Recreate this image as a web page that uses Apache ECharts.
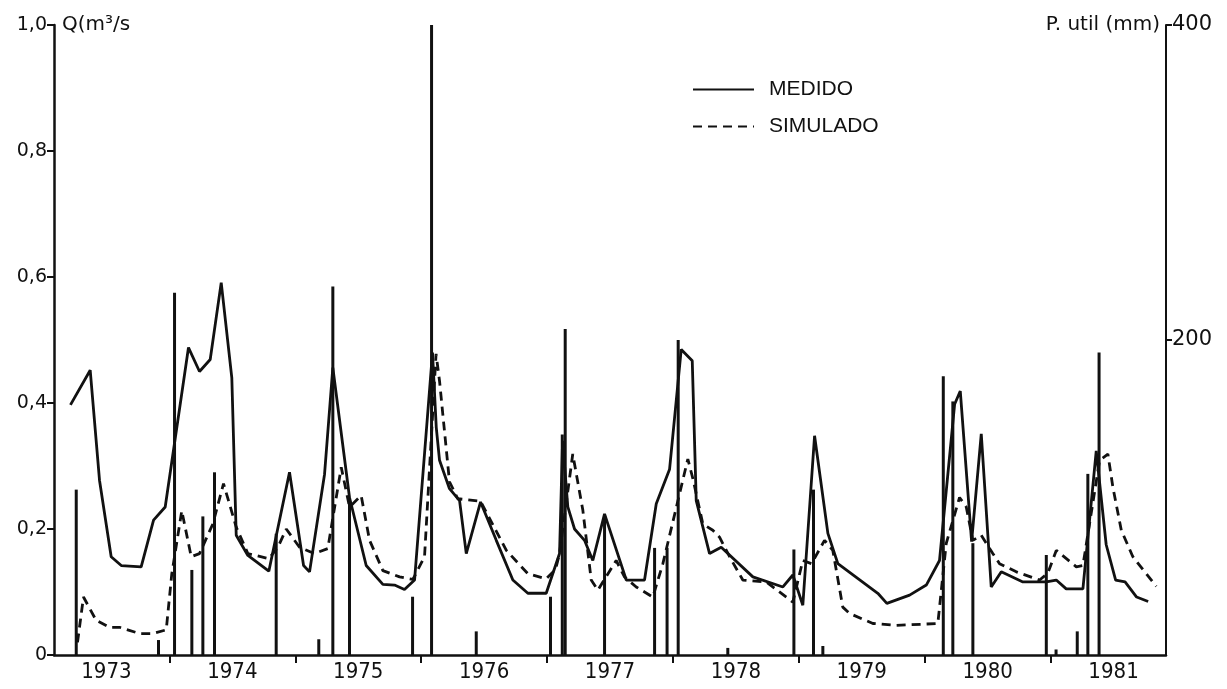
<!DOCTYPE html>
<html>
<head>
<meta charset="utf-8">
<script src="https://cdn.jsdelivr.net/npm/echarts@6.0.0/dist/echarts.min.js"></script>
<style>
  html, body { margin: 0; padding: 0; background: #ffffff; }
  #chart { width: 1227px; height: 689px; }
</style>
</head>
<body>
<div id="chart"></div>
<script>
// Time is counted in months from 1 January 1973.
const years = [1973, 1974, 1975, 1976, 1977, 1978, 1979, 1980, 1981];

// Discharge measured (MEDIDO), m3/s
const medidoMonth = [2.57, 4.45, 5.34, 6.45, 7.41, 9.31, 10.49, 11.60, 13.82, 14.87, 15.89, 16.94, 17.95, 18.37, 19.48, 21.48, 23.45, 24.79, 25.36, 26.79, 27.58, 29.17, 30.76, 32.35, 33.46, 34.41, 35.37, 37.08, 37.44, 37.75, 38.70, 39.66, 40.30, 41.66, 43.16, 44.74, 46.17, 47.92, 49.19, 49.48, 49.98, 50.62, 51.57, 52.36, 53.48, 55.55, 57.29, 58.41, 59.68, 60.79, 61.84, 62.22, 63.49, 64.60, 67.62, 70.48, 71.43, 72.38, 73.50, 74.77, 75.72, 79.53, 80.39, 82.56, 84.15, 85.41, 86.85, 87.39, 88.47, 89.39, 90.34, 91.30, 93.36, 95.59, 96.54, 97.49, 99.08, 100.35, 101.30, 102.2, 103.1, 104.2, 105.3];
const medidoQ = [0.397, 0.452, 0.277, 0.156, 0.142, 0.140, 0.214, 0.235, 0.488, 0.450, 0.469, 0.591, 0.440, 0.190, 0.158, 0.133, 0.290, 0.142, 0.132, 0.287, 0.456, 0.250, 0.142, 0.112, 0.111, 0.104, 0.119, 0.480, 0.361, 0.309, 0.264, 0.245, 0.161, 0.243, 0.182, 0.119, 0.098, 0.098, 0.161, 0.340, 0.235, 0.200, 0.182, 0.150, 0.224, 0.119, 0.119, 0.240, 0.295, 0.485, 0.467, 0.245, 0.161, 0.171, 0.124, 0.108, 0.127, 0.079, 0.348, 0.193, 0.145, 0.098, 0.082, 0.095, 0.111, 0.150, 0.398, 0.419, 0.180, 0.351, 0.108, 0.132, 0.116, 0.116, 0.119, 0.105, 0.105, 0.324, 0.175, 0.119, 0.116, 0.092, 0.085];

// Discharge simulated (SIMULADO), m3/s
const simuladoMonth = [3.24, 3.81, 5.02, 6.29, 7.25, 9.15, 10.42, 11.70, 12.23, 13.18, 14.08, 14.87, 16.14, 17.16, 18.37, 19.48, 21.48, 22.34, 23.14, 24.40, 25.83, 27.10, 28.38, 29.17, 30.28, 31.08, 32.35, 33.94, 35.21, 36.32, 37.42, 37.75, 38.70, 39.49, 41.66, 44.12, 46.17, 47.92, 48.81, 49.19, 50.45, 51.41, 52.21, 52.84, 54.59, 55.38, 56.50, 58.08, 59.04, 61.42, 61.90, 62.85, 63.80, 64.44, 65.40, 66.66, 68.89, 71.43, 72.38, 73.21, 74.45, 75.24, 76.19, 76.84, 79.06, 81.29, 85.25, 86.05, 87.32, 87.96, 88.59, 89.39, 90.49, 91.13, 92.73, 94.95, 95.74, 96.54, 98.45, 99.08, 100.67, 101.46, 101.94, 102.74, 103.84, 106.07];
const simuladoQ = [0.020, 0.092, 0.055, 0.044, 0.044, 0.034, 0.034, 0.040, 0.129, 0.229, 0.156, 0.161, 0.208, 0.272, 0.203, 0.161, 0.153, 0.171, 0.200, 0.171, 0.161, 0.169, 0.298, 0.235, 0.253, 0.182, 0.134, 0.124, 0.120, 0.156, 0.478, 0.435, 0.275, 0.248, 0.244, 0.166, 0.129, 0.121, 0.136, 0.161, 0.319, 0.230, 0.119, 0.103, 0.150, 0.124, 0.108, 0.092, 0.145, 0.311, 0.280, 0.208, 0.198, 0.187, 0.156, 0.119, 0.116, 0.084, 0.150, 0.145, 0.182, 0.166, 0.076, 0.066, 0.050, 0.047, 0.050, 0.177, 0.250, 0.235, 0.182, 0.190, 0.161, 0.145, 0.132, 0.119, 0.130, 0.166, 0.140, 0.142, 0.309, 0.319, 0.266, 0.198, 0.156, 0.109];

// Effective rainfall (P util), mm
const chuvaMonth = [3.12, 10.96, 12.49, 14.14, 15.19, 16.30, 22.18, 26.24, 27.58, 29.17, 35.18, 36.99, 41.25, 48.33, 49.45, 49.73, 53.48, 58.25, 59.44, 60.50, 65.23, 71.53, 73.40, 74.29, 85.77, 86.68, 88.59, 95.59, 96.52, 98.54, 99.55, 100.62];
const chuvaP = [105, 9.5, 230, 54, 88, 116, 77, 10, 234, 100, 37, 400, 15, 37, 140, 207, 89, 68, 68, 200, 4.5, 67, 105, 5.7, 177, 161, 71, 63.5, 3.5, 15, 115, 192];

const pairs = (xs, ys) => xs.map((x, i) => [x, ys[i]]);
const ink = '#111111';
const numFont = "'DejaVu Sans', sans-serif";
const yearFont = "'Liberation Sans Narrow', 'DejaVu Sans Condensed', 'Liberation Sans', sans-serif";
const textFont = "'Liberation Sans', 'DejaVu Sans', sans-serif";

const chart = echarts.init(document.getElementById('chart'));
chart.setOption({
  animation: false,
  backgroundColor: '#ffffff',
  grid: { left: 54, right: 61, top: 25, bottom: 34, containLabel: false },
  legend: {
    orient: 'vertical',
    left: 687,
    top: 74,
    itemWidth: 61,
    itemHeight: 16,
    itemGap: 16,
    data: ['MEDIDO', 'SIMULADO'],
    // only the line sample is shown next to each name
    itemStyle: { opacity: 0 },
    textStyle: { color: ink, fontSize: 21, fontFamily: textFont, padding: [0, 0, 0, 10] }
  },
  xAxis: {
    type: 'value',
    min: 1,
    max: 107,
    axisLine: { show: true, onZero: false, lineStyle: { color: ink, width: 2.5 } },
    axisTick: {
      show: true,
      customValues: years.slice(1).map(y => (y - 1973) * 12),
      length: 8,
      lineStyle: { color: ink, width: 2 }
    },
    axisLabel: {
      customValues: years.map(y => (y - 1973) * 12 + 6),
      formatter: v => String(1973 + Math.floor(v / 12)),
      color: ink,
      fontSize: 22,
      fontFamily: yearFont,
      margin: 6
    },
    splitLine: { show: false }
  },
  yAxis: [
    {
      type: 'value',
      position: 'left',
      min: 0,
      max: 1,
      interval: 0.2,
      name: 'Q(m³/s',
      nameLocation: 'end',
      nameGap: 0,
      nameTextStyle: { color: ink, fontSize: 20, fontFamily: numFont, align: 'left', verticalAlign: 'middle', padding: [0, 0, 0, 8] },
      axisLine: { show: true, lineStyle: { color: ink, width: 2.5 } },
      axisTick: { show: true, length: 7, lineStyle: { color: ink, width: 2 } },
      axisLabel: {
        color: ink,
        fontSize: 19,
        fontFamily: numFont,
        margin: 7,
        formatter: v => (v === 0 ? '0' : v.toFixed(1).replace('.', ','))
      },
      splitLine: { show: false }
    },
    {
      type: 'value',
      position: 'right',
      min: 0,
      max: 400,
      interval: 200,
      name: 'P. util (mm)',
      nameLocation: 'end',
      nameGap: 0,
      nameTextStyle: { color: ink, fontSize: 20, fontFamily: numFont, align: 'right', verticalAlign: 'middle', padding: [0, 6, 0, 0] },
      axisLine: { show: true, lineStyle: { color: ink, width: 2 } },
      axisTick: { show: true, length: 6, lineStyle: { color: ink, width: 2 } },
      axisLabel: { color: ink, fontSize: 21, fontFamily: numFont, margin: 6, showMinLabel: false },
      splitLine: { show: false }
    }
  ],
  series: [
    {
      name: 'P util',
      type: 'bar',
      yAxisIndex: 1,
      barWidth: 3,
      itemStyle: { color: ink },
      data: pairs(chuvaMonth, chuvaP)
    },
    {
      name: 'MEDIDO',
      type: 'line',
      symbol: 'none',
      lineStyle: { color: ink, width: 2.8 },
      itemStyle: { color: ink },
      data: pairs(medidoMonth, medidoQ)
    },
    {
      name: 'SIMULADO',
      type: 'line',
      symbol: 'none',
      lineStyle: { color: ink, width: 2.8, type: [9, 6] },
      itemStyle: { color: ink },
      data: pairs(simuladoMonth, simuladoQ)
    }
  ]
});
</script>
</body>
</html>
